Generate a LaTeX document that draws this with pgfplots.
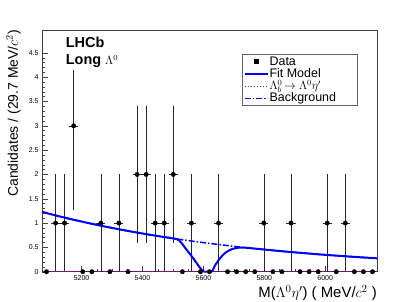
\documentclass[border=0pt]{standalone}
\usepackage{fontspec}
\setmainfont{Liberation Sans}
\usepackage{pgfplots}
\pgfplotsset{compat=1.18}
\usepackage{pgfplotstable}
\definecolor{sigpurple}{rgb}{0.55,0,0.55}
\definecolor{rootblue}{rgb}{0,0,1}

\pgfplotstableread{
x y ex ey
5084.86 0 14.865 0
5114.59 1 14.865 1
5144.32 1 14.865 1
5174.05 3 14.865 1.732
5203.78 0 14.865 0
5233.51 0 14.865 0
5263.24 1 14.865 1
5292.97 0 14.865 0
5322.70 1 14.865 1
5352.43 0 14.865 0
5382.16 2 14.865 1.414
5411.89 2 14.865 1.414
5441.62 1 14.865 1
5471.35 1 14.865 1
5501.08 2 14.865 1.414
5530.81 0 14.865 0
5560.54 1 14.865 1
5590.27 0 14.865 0
5620.00 0 14.865 0
5649.73 1 14.865 1
5679.46 0 14.865 0
5709.19 0 14.865 0
5738.92 0 14.865 0
5768.65 0 14.865 0
5798.38 1 14.865 1
5828.11 0 14.865 0
5857.84 0 14.865 0
5887.57 1 14.865 1
5917.30 0 14.865 0
5947.03 0 14.865 0
5976.76 0 14.865 0
6006.49 1 14.865 1
6036.22 0 14.865 0
6065.95 1 14.865 1
6095.68 0 14.865 0
6125.41 0 14.865 0
6155.14 0 14.865 0
}\datatable

\pgfplotstableread{
x y
5070 1.230
5120 1.149
5170 1.0735
5220 1.003
5270 0.937
5320 0.875
5370 0.8175
5420 0.7637
5470 0.7135
5500 0.685
5510 0.675
5520 0.645
5530 0.575
5540 0.49
5550 0.41
5560 0.33
5570 0.245
5580 0.155
5590 0.07
5597 0.02
5603 0.0
5625 0.0
5630 0.02
5638 0.13
5650 0.24
5660 0.315
5670 0.38
5682 0.43
5694 0.465
5706 0.485
5718 0.495
5730 0.497
5745 0.49
5770 0.4743
5820 0.4431
5870 0.4139
5920 0.3867
5970 0.3612
6020 0.3375
6070 0.3153
6120 0.2945
6170 0.2751
}\fittable

\pgfplotstableread{
x y
5070 1.230
5120 1.149
5170 1.0735
5220 1.003
5270 0.937
5320 0.875
5370 0.8175
5420 0.7637
5470 0.7135
5520 0.6665
5570 0.6227
5620 0.5817
5670 0.5434
5720 0.5077
5770 0.4743
5820 0.4431
5870 0.4139
5920 0.3867
5970 0.3612
6020 0.3375
6070 0.3153
6120 0.2945
6170 0.2751
}\bkgtable

\pgfplotstableread{
x y
5070 0
6170 0
}\sigtable

\begin{document}
\begin{tikzpicture}
\useasboundingbox (0,0) rectangle (419bp,302bp);
\begin{axis}[
  at={(42bp,30.3bp)}, anchor=south west,
  scale only axis, width=335bp, height=241.7bp,
  xmin=5070, xmax=6170, ymin=0, ymax=4.97,
  clip=false,
  axis line style={black!75, line width=0.5bp},
  tick align=inside, xtick pos=bottom, ytick pos=left,
  xtick={5200,5400,5600,5800,6000}, minor x tick num=3,
  ytick={0,0.5,1,1.5,2,2.5,3,3.5,4,4.5}, minor y tick num=4,
  yticklabels={0,0.5,1,1.5,2,2.5,3,3.5,4,4.5},
  xticklabels={5200,5400,5600,5800,6000},
  major tick length=6bp, minor tick length=3bp,
  tick style={black!75, line width=0.4bp},
  tick label style={font=\fontsize{7}{8}\selectfont},
  /pgf/number format/assume math mode=true,
  xlabel={M($\Lambda^0\eta'$) ( MeV/$c^2$ )},
  ylabel={Candidates / (29.7 MeV/$c^2$)},
  xlabel style={at={(axis description cs:1,-0.055)}, anchor=north east, inner sep=0pt, font=\fontsize{15}{17}\selectfont},
  ylabel style={at={(axis description cs:-0.0627,1)}, anchor=south east, inner sep=0pt, font=\fontsize{14}{16}\selectfont},
  legend style={at={(axis description cs:0.598,0.8995)}, anchor=north west,
    draw=black!60, line width=0.5bp, fill=white,
    font=\fontsize{12.5}{12.5}\selectfont, inner sep=1bp, row sep=0bp,
    nodes={inner xsep=1bp, inner ysep=0bp, text height=9.5bp, text depth=2.8bp}},
  legend cell align=left,
  legend image code/.code={\draw[#1] (0bp,0bp) -- (23bp,0bp);},
]
\addplot[black, only marks, mark=*, mark size=2.2bp,
  legend image code/.code={\fill[black] (9.5bp,-2bp) rectangle (13.5bp,2bp);},
  error bars/.cd, y dir=both, y explicit, x dir=both, x explicit,
  error mark=none, error bar style={black!85, line width=0.6bp}]
  table[x=x, y=y, x error=ex, y error=ey] {\datatable};
\addlegendentry{Data}
\addplot[rootblue, line width=2bp] table[x=x,y=y] {\fittable};
\addlegendentry{Fit Model}
\addplot[sigpurple, line width=1.2bp, dash pattern=on 1.5bp off 1.5bp] table[x=x,y=y] {\sigtable};
\addlegendentry{{\fontsize{12}{12}\selectfont$\Lambda_b^0\!\rightarrow\Lambda^0\eta'$}}
\addplot[rootblue, line width=1.5bp, dash pattern=on 6bp off 2bp on 1.5bp off 2bp] table[x=x,y=y] {\bkgtable};
\addlegendentry{Background\hspace*{19bp}}
\fill[white] (axis description cs:0.055,0.8345) rectangle (axis description cs:0.25,0.99);
\node[anchor=base west, inner sep=0pt, font=\fontsize{14.5}{17}\selectfont\bfseries] at (axis description cs:0.0707,0.9284) {LHCb};
\node[anchor=base west, inner sep=0pt, font=\fontsize{14.5}{17}\selectfont\bfseries] at (axis description cs:0.0707,0.8552) {Long {\fontsize{12}{14}\selectfont\mdseries$\Lambda^0$}};
\end{axis}
\end{tikzpicture}
\end{document}
